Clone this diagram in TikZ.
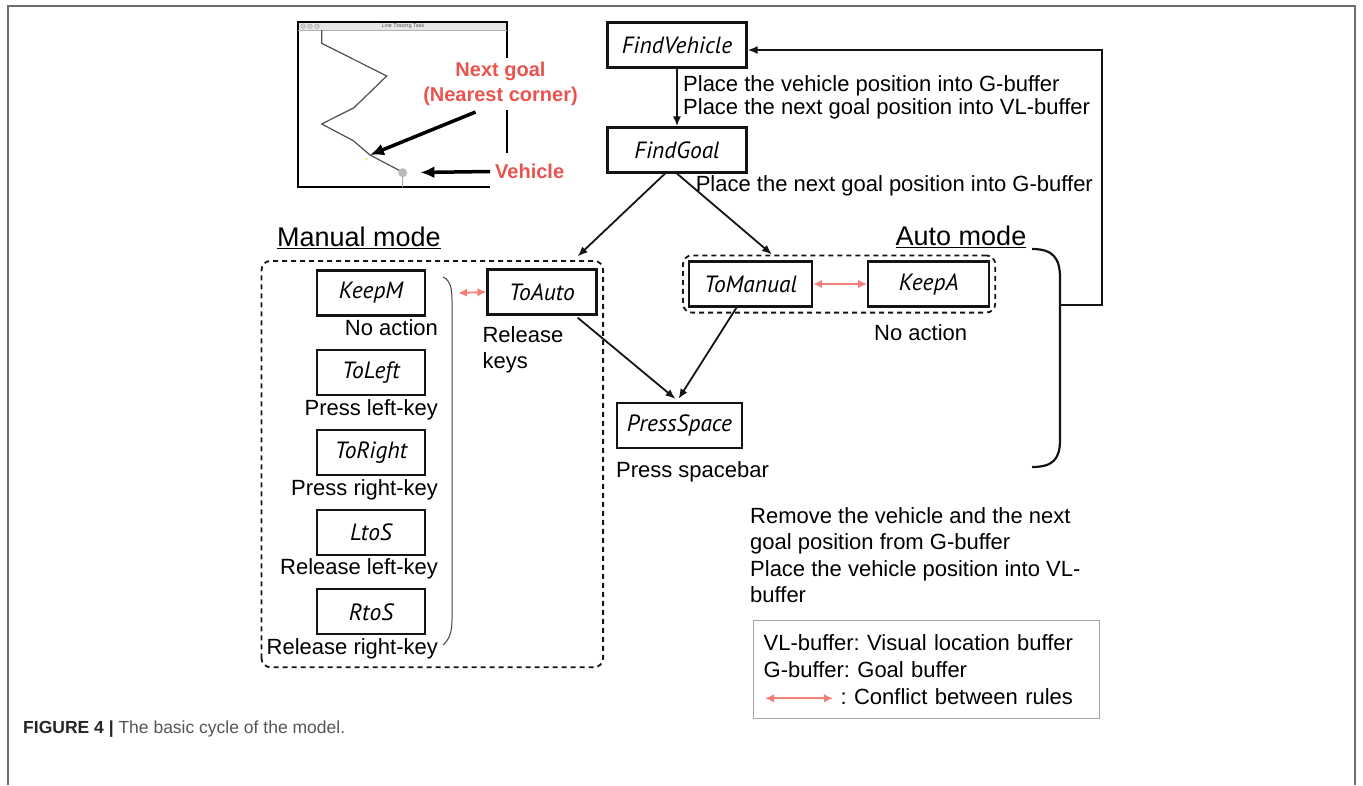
\documentclass[tikz,border=0pt]{standalone}
\usepackage{fontspec}
\setmainfont{Liberation Sans}
\newfontfamily\rulefont{PT Sans}
\usetikzlibrary{arrows.meta,positioning,fit,calc}
\frenchspacing
\definecolor{ink}{RGB}{20,20,20}
\definecolor{clash}{RGB}{240,128,120}
\definecolor{goalred}{RGB}{233,84,78}
\definecolor{framegray}{RGB}{110,110,110}
\definecolor{legendgray}{RGB}{165,165,165}
\definecolor{capgray}{RGB}{85,85,85}
\definecolor{track}{RGB}{80,80,80}
\newcommand{\bodysize}{\fontsize{22}{26.5}\selectfont}
\tikzset{
  rulebox/.style  = {draw=ink, line width=2.2pt, minimum height=45pt, inner sep=3pt,
                     font=\rulefont\itshape\fontsize{23.5}{27}\selectfont},
  act/.style      = {inner sep=0pt, text height=16pt, text depth=4.5pt, font=\bodysize},
  note/.style     = {inner sep=0pt, align=left, font=\bodysize},
  flow/.style     = {-{Latex[length=10pt,width=8pt]}, draw=ink, line width=1.8pt},
  conflict/.style = {{Latex[length=9pt,width=8.5pt]}-{Latex[length=9pt,width=8.5pt]},
                     draw=clash, line width=1.8pt},
  mode/.style     = {draw=ink, dash pattern=on 5pt off 4pt, line width=1.8pt,
                     rounded corners=9pt, inner sep=5pt},
  modetitle/.style= {inner sep=0pt, font=\fontsize{27}{30}\selectfont},
  callout/.style  = {fill=white, text=goalred, align=center, inner sep=4pt,
                     font=\bfseries\fontsize{20}{25}\selectfont},
  pointer/.style  = {-{Latex[length=14pt,width=12pt]}, line width=3.5pt, draw=black},
  legend/.style   = {draw=legendgray, line width=1.3pt, align=left, inner sep=10pt,
                     text width=326pt, minimum height=98pt, font=\fontsize{22}{27}\selectfont},
}

\begin{document}
\begin{tikzpicture}[x=1pt, y=-1pt, node distance=32.5pt]
\useasboundingbox (0,0) rectangle (1363,785);
% page frame, open at the bottom
\draw[framegray, line width=2.5pt] (8,785) -- (8,6) -- (1355,6) -- (1355,785);

% task window
\draw[line width=1.2pt, fill=white] (298,22) rectangle (507,187);
\fill[gray!20] (298.6,22.6) rectangle (506.4,30);
\draw[gray!60, line width=0.5pt] (298,30) -- (507,30);
\foreach \cx in {303,310,317}
  \draw[gray!70, fill=gray!35, line width=0.4pt] (\cx,26.2) circle (2.3pt);
\node[font=\fontsize{5.5}{6}\selectfont, text=gray!70!black, inner sep=0pt] (wtitle) at (403,26.3) {Line Tracing Task};
\draw[track, line width=1.2pt] (321.7,30) -- (321.7,43.3) -- (386.7,76) -- (354,107.7)
  -- (321.7,124) -- (353.3,140.7) -- (370,155) -- (401.7,171.7);
\coordinate (corner) at (370,155);
\fill[yellow!80!orange] (366.7,159) circle (1pt);
\draw[gray!70, line width=1pt] (402.7,177) -- (402.7,187);
\node[circle, fill=gray!55, minimum size=9pt, inner sep=0pt] (car) at (402.7,172.7) {};

% callouts on the window
\node[callout] (ngoal) at (500.5,84) {Next goal\\(Nearest corner)};
\node[callout, minimum height=37pt, inner sep=5pt] (vlab) at (529.7,171.5) {Vehicle};
\draw[pointer] ($(ngoal.south)+(-25,2)$) -- (corner);
\draw[pointer, shorten >=13pt] (vlab.west) -- (car);

% main cycle
\node[rulebox, minimum width=139pt] (fv) at (677,45) {FindVehicle};
\node[rulebox, minimum width=139pt] (fg) at (677,150) {FindGoal};
\draw[flow] (fv) -- (fg);
\node[note, anchor=west, font=\fontsize{22}{23}\selectfont] (fvtxt)
  at ($(fv.south)!0.5!(fg.north)+(6,0)$) {Place the vehicle position into G-buffer\\Place the next goal position into VL-buffer};
\node[note, anchor=west] (fgtxt) at ($(fg.south east)+(-52,12)$) {Place the next goal position into G-buffer};

% manual mode
\node[modetitle] (mtitle) at (359,238) {\underline{Manual mode}};
\node[rulebox, minimum width=108pt] (keepm) at (371,293) {KeepM};
\node[rulebox, minimum width=108pt, below=of keepm] (toleft) {ToLeft};
\node[rulebox, minimum width=108pt, below=of toleft] (toright) {ToRight};
\node[rulebox, minimum width=108pt, below=of toright] (ltos) {LtoS};
\node[rulebox, minimum width=108pt, below=of ltos] (rtos) {RtoS};
\node[act, anchor=east] (keepmtxt) at ($(keepm.east)+(12,37)$) {No action};
\node[act, anchor=east] (lefttxt) at ($(toleft.east)+(12,37)$) {Press left-key};
\node[act, anchor=east] (righttxt) at ($(toright.east)+(12,37)$) {Press right-key};
\node[act, anchor=east] (ltostxt) at ($(ltos.east)+(12,37)$) {Release left-key};
\node[act, anchor=east] (rtostxt) at ($(rtos.east)+(12,37)$) {Release right-key};
\draw[ink!80, line width=1pt] (443,277) .. controls (450,280) and (452,288) .. (452,300)
  -- (452,620) .. controls (452,632) and (449,640) .. (443,645);

\node[rulebox, minimum width=109pt] (toauto) at (542,292) {ToAuto};
\node[note, anchor=north west] (toautotxt) at ($(toauto.south west)+(-4,10.5)$) {Release\\keys};
\draw[conflict] (toauto.west) -- ($(keepm.east)+(32,0)$);
\draw[mode] ($(rtostxt.south west)+(-5,8)$) rectangle ($(toauto.north east)+(5.5,-7.5)$);

% auto mode
\node[modetitle] (atitle) at (961,237) {\underline{Auto mode}};
\node[rulebox, minimum width=123pt] (toman) at (750.5,284) {ToManual};
\node[rulebox, minimum width=121pt, right=54pt of toman] (keepa) {KeepA};
\draw[conflict] (toman) -- (keepa);
\node[mode, fit=(toman) (keepa)] (auto) {};
\node[act] (keepatxt) at ($(keepa.south)+(-8,27)$) {No action};
\draw[ink, line width=2.2pt] (1032,249) .. controls (1053,249) and (1060,258) .. (1060,278)
  -- (1060,440) .. controls (1060,459) and (1053,467) .. (1032,467);

% key press
\node[rulebox, minimum width=125pt] (ps) at (679.5,425.5) {PressSpace};
\node[act, anchor=west] (pstxt) at ($(ps.south west)+(0,23)$) {Press spacebar};

\draw[flow] ([xshift=-12pt]fg.south) -- ($(toauto.north east)+(-20,-12)$);
\draw[flow] (fg.south) -- ($(auto.north west)+(90,0)$);
\draw[flow] ($(toauto.south east)+(-20,2)$) -- ($(ps.north)+(-4,-3)$);
\draw[flow] ($(toman.south)+(-14,0)$) -- ($(ps.north)+(-1,-3)$);

% back to the start of the cycle
\coordinate (loop) at (1060,305);
\draw[flow] (loop) -- ++(42,0) |- ($(fv.east)+(0,5)$);

% buffer updates and legend
\node[note, anchor=north west] (rmtxt) at (750,507) {Remove the vehicle and the next\\goal position from G-buffer\\Place the vehicle position into VL-\\buffer};
\node[legend, anchor=north west] (leg) at (753,620) {VL-buffer: Visual location buffer\\G-buffer: Goal buffer\\\hspace*{77pt}: Conflict between rules};
\draw[conflict] ($(leg.south west)+(12,-21)$) -- ++(68,0);

\node[anchor=west, inner sep=0pt, text=black!85, font=\fontsize{17.5}{20}\selectfont] (cap)
  at (23,729) {\textbf{FIGURE 4 |} \textcolor{capgray}{The basic cycle of the model.}};
\end{tikzpicture}
\end{document}
